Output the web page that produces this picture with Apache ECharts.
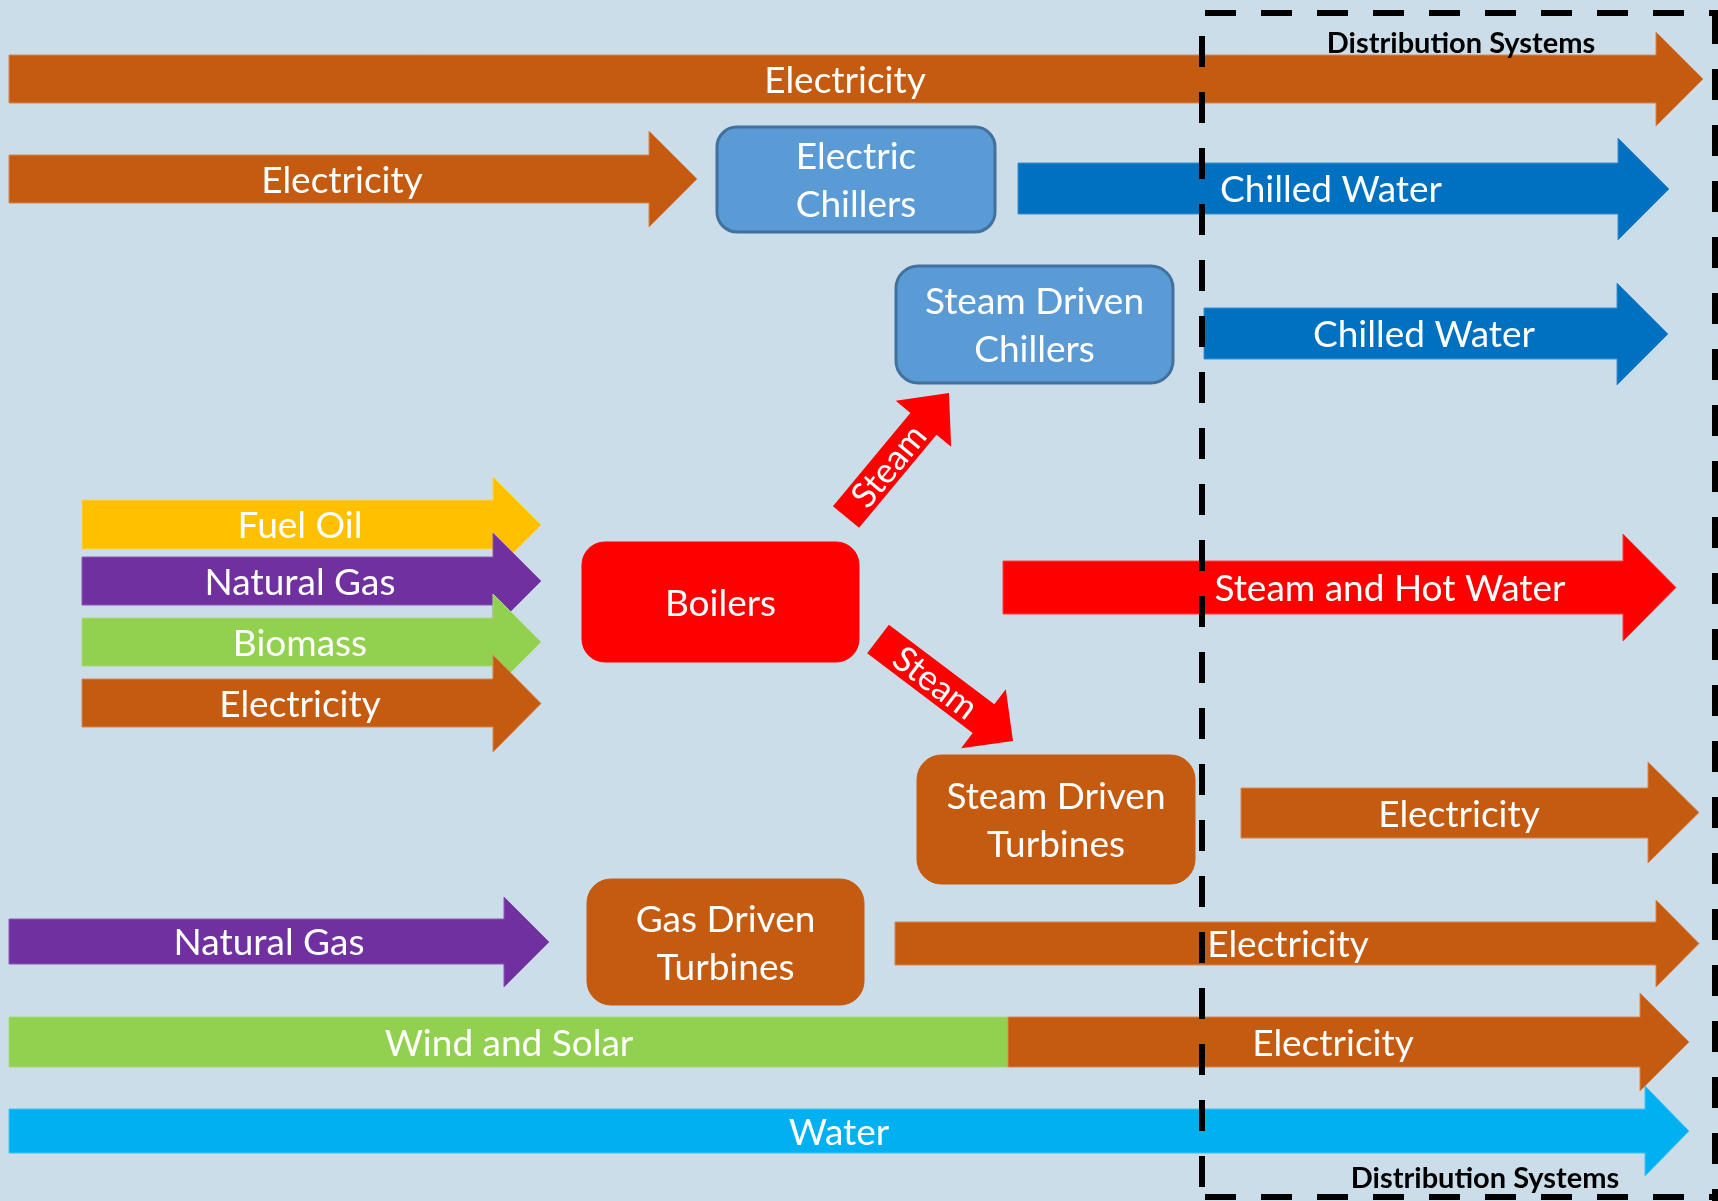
<!DOCTYPE html>
<html><head><meta charset="utf-8">
<script src="https://cdn.jsdelivr.net/npm/echarts@6/dist/echarts.min.js"></script>
<style>html,body{margin:0;padding:0;background:#cbdde9}#c{width:1718px;height:1201px}</style>
</head><body><div id="c"></div>
<script>
// ---- Flow arrows (diagram coordinates, 1718 x 1201 space) ----
const flowLabels = ['Electricity','Electricity','Chilled Water','Chilled Water','Fuel Oil','Natural Gas','Biomass','Electricity','Steam and Hot Water','Electricity','Natural Gas','Electricity','Electricity','Water'];
const flowKinds  = ['elec','elec','chill','chill','oil','gas','bio','elec','steam','elec','gas','elec','elec','water'];
const flowStart     = [9, 9, 1018, 1204, 82, 82, 82, 82, 1003, 1241, 9, 895, 1008, 9];
const flowHeadBase  = [1656, 649, 1618, 1617, 493, 493, 493, 493, 1623, 1648, 504, 1656, 1640, 1645];
const flowTip       = [1703, 697, 1669, 1668, 541, 541, 541, 541, 1676, 1699, 549, 1699, 1689, 1689];
const flowBodyTop   = [55, 155, 163, 308, 500, 557, 618, 679, 561, 788, 919, 922, 1017, 1109];
const flowBodyBot   = [103, 203, 214, 359, 549, 605, 666, 727, 614, 838, 964, 965, 1067, 1153];
const flowHeadTop   = [32, 131, 138, 283, 477, 533, 594, 655, 534, 762, 897, 900, 993, 1086];
const flowHeadBot   = [126, 227, 240, 385, 573, 629, 690, 752, 641, 863, 987, 987, 1091, 1176];
const flowLabelX    = [845, 342, 1331, 1424, 300, 300, 300, 300, 1390, 1459, 269, 1288, 1333, 839];

// ---- Plain band (no head) ----
const bandLabels = ['Wind and Solar'];
const bandKinds  = ['bio'];
const bandStart  = [9];
const bandEnd    = [1008];
const bandTop    = [1017];
const bandBot    = [1067];
const bandLabelX = [509];

// ---- Process boxes ----
const boxLabels = [['Electric','Chillers'],['Steam Driven','Chillers'],['Boilers'],['Steam Driven','Turbines'],['Gas Driven','Turbines']];
const boxKinds  = ['chiller','chiller','boiler','turbine','turbine'];
const boxLeft   = [717, 896, 582, 917, 587];
const boxRight  = [995, 1173, 859, 1195, 864];
const boxTop    = [127, 266, 542, 755, 879];
const boxBot    = [232, 383, 662, 884, 1005];

// ---- Diagonal steam arrows ----
const steamLabels = ['Steam','Steam'];
const steamTailX = [846, 878];
const steamTailY = [517, 639];
const steamTipX  = [949, 1013];
const steamTipY  = [393, 741];
const steamBodyW = [34, 36];
const steamHeadW = [72, 74];
const steamHeadL = [40, 37];

// ---- Distribution systems frame ----
const frameLabels = ['Distribution Systems','Distribution Systems'];
const frameLabelX = [1461, 1485];
const frameLabelY = [44, 1179];
const frameX1 = [1202, 1205, 1715, 1205];
const frameY1 = [13, 13, 13, 1197];
const frameX2 = [1202, 1718, 1715, 1718];
const frameY2 = [1201, 13, 1201, 1197];

const COLORS = {
  elec:'#c55a11', chill:'#0070c0', oil:'#ffc000', gas:'#7030a0', bio:'#92d050',
  steam:'#ff0000', water:'#00b0f0', chiller:'#5b9bd5', boiler:'#ff0000', turbine:'#c55a11'
};
const EDGE = {
  elec:'#d7864f', chill:'#3a8fce', oil:'#ffd24d', gas:'#8b59b3', bio:'#a8da78',
  steam:'#ff4040', water:'#40c4f3'
};
const FONT = 'Lato, Carlito, Calibri, "Open Sans", sans-serif';
const TEXT_SIZE = 37;
const TEXT_DY = 2;

const chart = echarts.init(document.getElementById('c'), null, {renderer:'canvas'});

const flowData = flowLabels.map((_, i) => [flowStart[i], flowHeadBase[i], flowTip[i], flowBodyTop[i], flowBodyBot[i], flowHeadTop[i], flowHeadBot[i], flowLabelX[i]]);
const bandData = bandLabels.map((_, i) => [bandStart[i], bandEnd[i], bandTop[i], bandBot[i], bandLabelX[i]]);
const boxData = boxLabels.map((_, i) => [boxLeft[i], boxRight[i], boxTop[i], boxBot[i]]);
const steamData = steamLabels.map((_, i) => [steamTailX[i], steamTailY[i], steamTipX[i], steamTipY[i], steamBodyW[i], steamHeadW[i], steamHeadL[i]]);
const frameData = frameX1.map((_, i) => [frameX1[i], frameY1[i], frameX2[i], frameY2[i]]);
const frameTextData = frameLabels.map((_, i) => [frameLabelX[i], frameLabelY[i]]);

function whiteText(text, x, y, size) {
  return {
    type:'text',
    style:{ text, x, y: y + TEXT_DY, fill:'#ffffff', fontSize:size, fontFamily:FONT, align:'center', verticalAlign:'middle' }
  };
}

const option = {
  backgroundColor:'#cbdde9',
  animation:false,
  grid:{ left:0, right:0, top:0, bottom:0 },
  xAxis:{ type:'value', min:0, max:1718, show:false },
  yAxis:{ type:'value', min:0, max:1201, inverse:true, show:false },
  series:[
    { // plain band (Wind and Solar)
      type:'custom', clip:false, silent:true, data:bandData,
      renderItem(params, api) {
        const i = params.dataIndex;
        const a = api.coord([api.value(0), api.value(2)]);
        const b = api.coord([api.value(1), api.value(3)]);
        const mid = api.coord([api.value(4), (api.value(2) + api.value(3)) / 2]);
        return { type:'group', children:[
          { type:'rect', shape:{ x:a[0], y:a[1], width:b[0]-a[0], height:b[1]-a[1] },
            style:{ fill:COLORS[bandKinds[i]], stroke:EDGE[bandKinds[i]], lineWidth:1 } },
          whiteText(bandLabels[i], mid[0], mid[1], TEXT_SIZE)
        ]};
      }
    },
    { // straight flow arrows
      type:'custom', clip:false, silent:true, data:flowData,
      renderItem(params, api) {
        const i = params.dataIndex;
        const x0 = api.value(0), hb = api.value(1), tip = api.value(2);
        const bt = api.value(3), bb = api.value(4), ht = api.value(5), hbo = api.value(6);
        const cy = (ht + hbo) / 2;
        const pts = [[x0,bt],[hb,bt],[hb,ht],[tip,cy],[hb,hbo],[hb,bb],[x0,bb]].map(p => api.coord(p));
        const lab = api.coord([api.value(7), (bt + bb) / 2]);
        const k = flowKinds[i];
        return { type:'group', children:[
          { type:'polygon', shape:{ points:pts }, style:{ fill:COLORS[k], stroke:EDGE[k], lineWidth:1 } },
          whiteText(flowLabels[i], lab[0], lab[1], TEXT_SIZE)
        ]};
      }
    },
    { // process boxes
      type:'custom', clip:false, silent:true, data:boxData,
      renderItem(params, api) {
        const i = params.dataIndex;
        const a = api.coord([api.value(0), api.value(2)]);
        const b = api.coord([api.value(1), api.value(3)]);
        const w = b[0]-a[0], h = b[1]-a[1];
        const k = boxKinds[i];
        const r = Math.min(w, h) * 0.19;
        const lines = boxLabels[i];
        const cx = a[0] + w/2, cy = a[1] + h/2;
        const children = [
          { type:'rect', shape:{ x:a[0], y:a[1], width:w, height:h, r },
            style:{ fill:COLORS[k], stroke:k === 'chiller' ? '#41719c' : COLORS[k], lineWidth:k === 'chiller' ? 3 : 1 } }
        ];
        lines.forEach((t, j) => {
          children.push(whiteText(t, cx, cy + (j - (lines.length - 1) / 2) * 48, TEXT_SIZE));
        });
        return { type:'group', children };
      }
    },
    { // diagonal steam arrows
      type:'custom', clip:false, silent:true, data:steamData,
      renderItem(params, api) {
        const i = params.dataIndex;
        const t = api.coord([api.value(0), api.value(1)]);
        const p = api.coord([api.value(2), api.value(3)]);
        const bw = api.value(4), hw = api.value(5), hl = api.value(6);
        const dx = p[0]-t[0], dy = p[1]-t[1];
        const len = Math.hypot(dx, dy);
        const ux = dx/len, uy = dy/len, nx = -uy, ny = ux;
        const bl = len - hl;
        const P = (s, n) => [t[0] + ux*s + nx*n, t[1] + uy*s + ny*n];
        const pts = [P(0,-bw/2), P(bl,-bw/2), P(bl,-hw/2), P(len,0), P(bl,hw/2), P(bl,bw/2), P(0,bw/2)];
        const c = P(bl/2 + 6, 1);
        const rot = -Math.atan2(dy, dx);
        return { type:'group', children:[
          { type:'polygon', shape:{ points:pts }, style:{ fill:'#ff0000' } },
          { type:'text', x:c[0], y:c[1], rotation:rot,
            style:{ text:steamLabels[i], x:0, y:0, fill:'#ffffff', fontSize:35, fontFamily:FONT, align:'center', verticalAlign:'middle' } }
        ]};
      }
    },
    { // dashed distribution systems frame
      type:'custom', clip:false, silent:true, data:frameData,
      renderItem(params, api) {
        const a = api.coord([api.value(0), api.value(1)]);
        const b = api.coord([api.value(2), api.value(3)]);
        const vertical = Math.abs(a[0]-b[0]) < 1;
        return { type:'line', shape:{ x1:a[0], y1:a[1], x2:b[0], y2:b[1] },
          style:{ stroke:'#000000', lineWidth:6, lineDash:[31,25], lineDashOffset: vertical && params.dataIndex === 0 ? 33 : 0 } };
      }
    },
    { // frame labels
      type:'custom', clip:false, silent:true, data:frameTextData,
      renderItem(params, api) {
        const a = api.coord([api.value(0), api.value(1)]);
        return { type:'text', style:{ text:frameLabels[params.dataIndex], x:a[0], y:a[1], fill:'#000000',
          fontSize:29, fontWeight:'bold', fontFamily:FONT, align:'center', verticalAlign:'middle' } };
      }
    }
  ]
};
chart.setOption(option);
</script>
</body></html>
